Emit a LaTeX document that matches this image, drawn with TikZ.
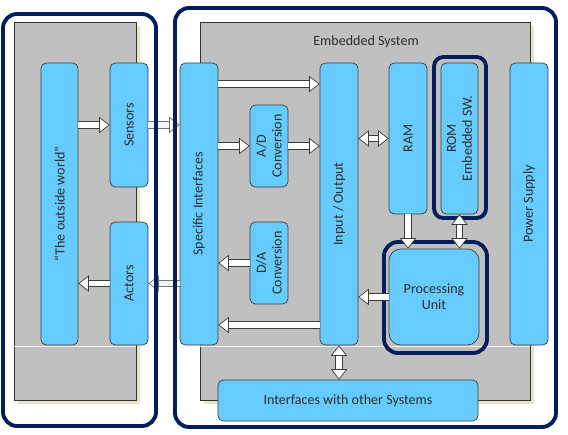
\documentclass[tikz,border=0pt]{standalone}
\usepackage{fontspec}
\setmainfont{Carlito}
\usetikzlibrary{arrows.meta}
\definecolor{navy}{RGB}{4,30,92}
\definecolor{panelgray}{RGB}{192,192,192}
\definecolor{shadowc}{RGB}{232,228,200}
\definecolor{boxblue}{RGB}{102,204,255}
\definecolor{boxline}{RGB}{60,60,60}
\definecolor{textgray}{RGB}{45,45,45}

\begin{document}
\begin{tikzpicture}[x=0.03cm, y=-0.03cm, font=\fontsize{12}{13.5}\selectfont]
\tikzset{
	panel/.style={draw=black!80, fill=panelgray, line width=0.5pt},
	frame/.style={draw=navy, line width=3.3pt, rounded corners=12pt},
	box/.style={draw=boxline, fill=boxblue, rounded corners=4.5pt, inner sep=0pt, line width=0.6pt},
	vlabel/.style={rotate=90, align=center, text=textgray, inner sep=0pt},
	fat/.style={draw=boxline, line width=0.6pt, double=white, double distance=4.8pt,
		>={Triangle[length=9pt, width=14pt, fill=white, line width=0.6pt]}},
	faint/.style={fat, draw=gray!90!black, double=white!92!gray,
		>={Triangle[length=9pt, width=14pt, fill=white!92!gray, line width=0.6pt]}}
}
\useasboundingbox (0,0) rectangle (568,434);

% gray panels with their shadow
\fill[shadowc] (18,26) rectangle (140,404);
\draw[panel] (14,22) rectangle (136,400);
\fill[shadowc] (204,26) rectangle (534,404);
\draw[panel] (200,22) rectangle (530,400);
\draw[white!88!gray, line width=0.6pt] (14,346) -- (136,346) (200,346) -- (530,346);
\node[text=textgray] (title) at (366,42) {Embedded System};

% blocks
\node[box, minimum width=1.11cm, minimum height=8.46cm, label={[vlabel]center:“The outside world”}] (world) at (59.5,204) {};
\node[box, minimum width=1.14cm, minimum height=3.72cm, label={[vlabel]center:Sensors}] (sensors) at (129,125) {};
\node[box, minimum width=1.14cm, minimum height=3.69cm, label={[vlabel]center:Actors}] (actors) at (129,283.5) {};
\node[box, minimum width=1.14cm, minimum height=8.46cm, label={[vlabel]center:Specific Interfaces}] (spec) at (199,204) {};
\node[box, minimum width=1.14cm, minimum height=2.46cm, label={[vlabel]center:A/D\\Conversion}] (ad) at (269,146) {};
\node[box, minimum width=1.14cm, minimum height=2.46cm, label={[vlabel]center:D/A\\Conversion}] (da) at (269,263) {};
\node[box, minimum width=1.14cm, minimum height=8.46cm, label={[vlabel]center:Input / Output}] (io) at (339,204) {};
\node[box, minimum width=1.14cm, minimum height=4.53cm, label={[vlabel]center:RAM}] (ram) at (408,138.5) {};
\node[box, minimum width=1.11cm, minimum height=4.53cm, label={[vlabel]center:ROM\\Embedded SW.}] (rom) at (459.5,138.5) {};
\node[box, minimum width=1.14cm, minimum height=8.46cm, label={[vlabel]center:Power Supply}] (power) at (529,204) {};
\node[box, rounded corners=10pt, minimum width=2.7cm, minimum height=2.88cm, align=center, text=textgray] (pu) at (434,297) {Processing\\Unit};
\node[box, minimum width=7.8cm, minimum height=1.23cm, text=textgray] (iface) at (348,400.5) {Interfaces with other Systems};

% arrows across the frames
\draw[faint, ->] (sensors.east) -- (spec.west |- sensors);
\draw[faint, ->] (spec.west |- actors) -- (actors.east);

% frames
\draw[frame] (3,14) rectangle (156,426);
\draw[frame] (175,8) rectangle (556,427);
\draw[frame, rounded corners=8pt] (434,57) rectangle (486,218);
\draw[frame] (384,242) rectangle (487,353);

% arrows
\draw[fat, ->] (world.east |- sensors) -- (sensors.west);
\draw[fat, ->] (actors.west) -- (world.east |- actors);
\draw[fat, ->] (spec.east |- 0,84) -- (io.west |- 0,84);
\draw[fat, ->] (spec.east |- ad) -- (ad.west);
\draw[fat, ->] (ad.east) -- (io.west |- ad);
\draw[fat, <->] (io.east |- ram) -- (ram.west);
\draw[fat, ->] (ram.south) -- (ram.south |- pu.north);
\draw[fat, <->] (rom.south) -- (rom.south |- pu.north);
\draw[fat, ->] (pu.west) -- (io.east |- pu);
\draw[fat, ->] (da.west) -- (spec.east |- da);
\draw[fat, ->] (io.west |- 0,325) -- (spec.east |- 0,325);
\draw[fat, <->] (io.south) -- (io.south |- iface.north);
\end{tikzpicture}
\end{document}
